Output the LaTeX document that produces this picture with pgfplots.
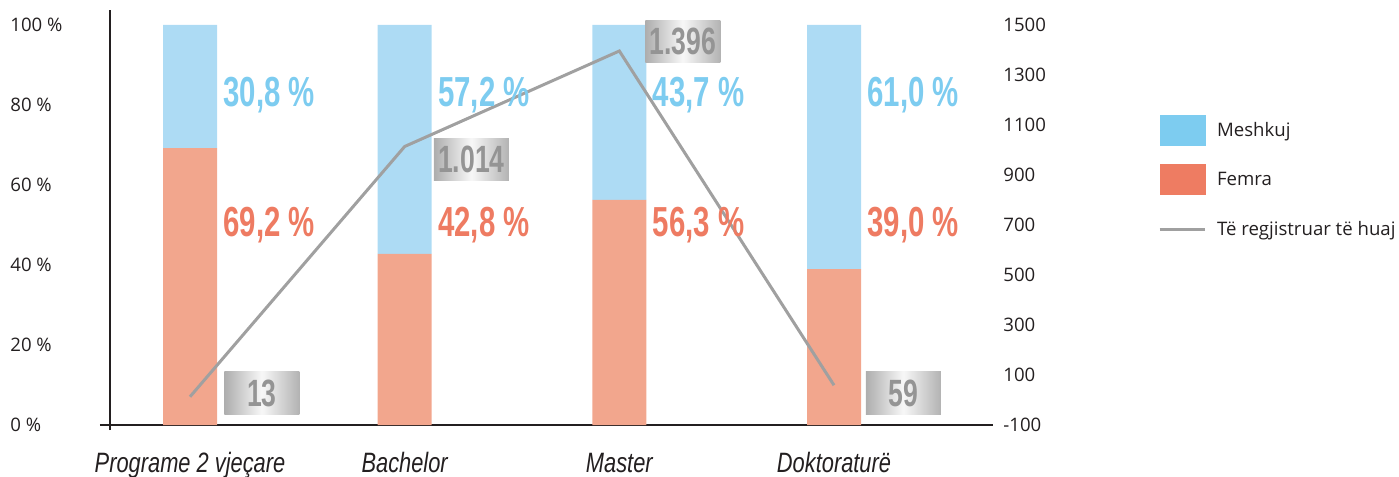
\documentclass[border=0pt]{standalone}
\usepackage{fontspec}
\usepackage{pgfplots}
\usepackage{pgfplotstable}
\pgfplotsset{compat=1.18}
\setmainfont{Open Sans}
\newfontfamily\numfont{Liberation Sans}[FakeStretch=0.7]
\newfontfamily\catfont{Liberation Sans}[FakeStretch=0.78]

\definecolor{barblue}{RGB}{173,219,244}
\definecolor{barsalmon}{RGB}{242,166,141}
\definecolor{legblue}{RGB}{125,204,240}
\definecolor{legorange}{RGB}{238,124,98}
\definecolor{labblue}{RGB}{125,204,240}
\definecolor{laborange}{RGB}{238,123,98}
\definecolor{linegray}{RGB}{160,160,160}
\definecolor{axisblack}{RGB}{35,31,32}

% x = category, lx/ly = where the count box sits (right axis units)
\pgfplotstableread{
x femra meshkuj count lx    ly
0 69.2  30.8    13    0.335 28
1 42.8  57.2    1014  1.311 964
2 56.3  43.7    1396  2.296 1436
3 39.0  61.0    59    3.323 28
}\datatable

\newcommand\tickfont{\fontsize{9.3pt}{11pt}\selectfont}
\newcommand\pctfont{\numfont\bfseries\fontsize{21pt}{21pt}\selectfont}

\begin{document}
\begin{tikzpicture}
\path[use as bounding box] (-55pt,-26pt) rectangle (644.5pt,212.5pt);
\pgfplotsset{
  base/.style={
    at={(0,0)}, anchor=south west,
    scale only axis, width=441.5pt, height=207.5pt,
    xmin=-0.3727, xmax=3.7406,
    clip=false,
    major tick length=0pt,
    ticklabel style={font=\tickfont},
    /pgf/number format/assume math mode=true,
  },
  labels/.style={only marks, mark=text, text mark={}, point meta=explicit},
}
\begin{axis}[base,
  ymin=0, ymax=103.75,
  ybar stacked, bar width=27pt,
  axis x line*=bottom, axis y line*=left,
  axis line style={-, line width=0.75pt, color=axisblack},
  x axis line style={shorten <=-5pt},
  y axis line style={shorten <=-2.5pt},
  xtick={0,1,2,3},
  xticklabels={Programe 2 vjeçare, Bachelor, Master, Doktoraturë},
  xticklabel style={font=\catfont\itshape\fontsize{14pt}{14pt}\selectfont,
    anchor=base, yshift=-23.5pt, inner sep=0pt, text=axisblack},
  ytick={0,20,...,100},
  yticklabel={\pgfmathprintnumber{\tick}~\%},
  yticklabel style={anchor=west, inner sep=0pt, xshift=-50pt, text=axisblack},
  legend style={draw=none, fill=none, inner sep=0pt, outer sep=0pt,
    at={(axis description cs:1.1869,0.747)}, anchor=north west,
    row sep=9.25pt, column sep=5.5pt, font=\tickfont,
    nodes={inner sep=0pt, text=axisblack}},
  legend cell align=left,
]
\addlegendimage{legend image code/.code={\fill[legblue, draw=none] (0pt,-7.75pt) rectangle (23pt,7.75pt);}}
\addlegendentry{Meshkuj}
\addlegendimage{legend image code/.code={\fill[legorange, draw=none] (0pt,-7.75pt) rectangle (23pt,7.75pt);}}
\addlegendentry{Femra}
\addlegendimage{legend image code/.code={\path[draw=none, fill=none] (0pt,-7.75pt) rectangle (23pt,7.75pt);
  \draw[linegray, line width=1.5pt] (0pt,0pt) -- (22.5pt,0pt);}}
\addlegendentry{Të regjistruar të huaj}

\addplot[fill=barsalmon, draw=none] table[x=x, y=femra] {\datatable};
\addplot[fill=barblue, draw=none] table[x=x, y=meshkuj] {\datatable};
\end{axis}

\begin{axis}[base,
  ymin=-100, ymax=1560,
  hide x axis,
  axis y line*=right,
  y axis line style={draw=none},
  ytick={-100,100,...,1500},
  /pgf/number format/1000 sep={},
  yticklabel style={anchor=west, inner sep=0pt, xshift=5pt, text=axisblack},
]
% percentage labels beside the bars
\addplot[labels,
  nodes near coords={\pgfmathprintnumber[fixed, fixed zerofill, precision=1, use comma]{\pgfplotspointmeta}~\%},
  every node near coord/.append style={anchor=west, inner sep=0pt, text=labblue, font=\pctfont}]
  table[x expr=\thisrow{x}+0.154, y expr=1220, meta=meshkuj] {\datatable};
\addplot[labels,
  nodes near coords={\pgfmathprintnumber[fixed, fixed zerofill, precision=1, use comma]{\pgfplotspointmeta}~\%},
  every node near coord/.append style={anchor=west, inner sep=0pt, text=laborange, font=\pctfont}]
  table[x expr=\thisrow{x}+0.154, y expr=700, meta=femra] {\datatable};

% foreign registered students
\addplot[linegray, line width=1.5pt, mark=none] table[x=x, y=count] {\datatable};

\addplot[labels,
  nodes near coords={\pgfmathprintnumber[1000 sep={.}]{\pgfplotspointmeta}},
  every node near coord/.append style={anchor=center, inner sep=0pt,
    minimum width=37.5pt, minimum height=21pt,
    left color=black!32, right color=black!30, middle color=black!3,
    text=black!42, font=\numfont\bfseries\fontsize{19pt}{19pt}\selectfont}]
  table[x=lx, y=ly, meta=count] {\datatable};
\end{axis}
\end{tikzpicture}
\end{document}
